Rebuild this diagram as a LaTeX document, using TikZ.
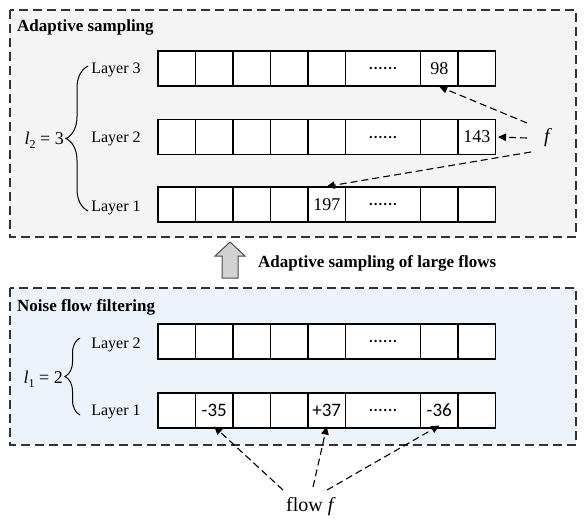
\documentclass[tikz,border=0pt]{standalone}
\usepackage{fontspec}
\setmainfont{Liberation Serif}
\newfontfamily\numfont{Carlito}
\usetikzlibrary{decorations.pathreplacing,arrows.meta}
\definecolor{sampbg}{RGB}{244,244,244}
\definecolor{filtbg}{RGB}{237,243,250}
\definecolor{upgray}{RGB}{210,210,210}
\newcommand{\celldots}{{\numfont\fontsize{19}{19}\selectfont......}}

\begin{document}
\begin{tikzpicture}[x=1pt,y=-1pt,font=\fontsize{16}{19}\selectfont,
  panel/.style={draw=black!80, line width=1.3pt, dash pattern=on 9pt off 5pt},
  cell/.style={draw=black, line width=1.1pt, fill=white, minimum width=37.5pt, minimum height=35pt, inner sep=0pt},
  wide/.style={cell, minimum width=75pt},
  title/.style={font=\fontsize{17}{20}\selectfont\bfseries, anchor=west, inner sep=0pt},
  layer/.style={inner sep=0pt},
  big/.style={inner sep=0pt, font=\fontsize{20}{24}\selectfont},
  val/.style={font=\fontsize{18}{21}\selectfont},
  neg/.style={font=\numfont\fontsize{19}{22}\selectfont},
  curly/.style={decorate, line width=1pt, decoration={brace, amplitude=#1, aspect=0.5}},
  flow/.style={draw=black, line width=1.1pt, dash pattern=on 7pt off 4pt, -{Triangle[length=8pt,width=7.5pt]}}]
\useasboundingbox (0,0) rectangle (586,525);
% panels
\draw[panel, fill=sampbg] (10,10) rectangle (576,237);
\draw[panel, fill=filtbg] (10,288) rectangle (576,445);
\node[title] (samp) at (17,27) {Adaptive sampling};
\node[title] (filt) at (17,307) {Noise flow filtering};
% cell rows
\foreach \r/\y in {t/68.5,m/137,b/204.5,u/341.5,d/410.5}{
  \foreach \i/\x in {1/176.75,2/214.25,3/251.75,4/289.25,5/326.75,7/439.25,8/476.75}
    \node[cell] (\r\i) at (\x,\y) {};
  \node[wide] (\r6) at (383,\y) {\celldots};
}
\node[val] at (t7) {98};
\node[val] at (m8) {143};
\node[val] at (b5) {197};
\node[neg] at (d2) {-35};
\node[neg] at (d5) {+37};
\node[neg] at (d7) {-36};
% layer labels
\node[layer] (l3) at (116,70) {Layer 3};
\node[layer] (l2) at (116,139) {Layer 2};
\node[layer] (l1) at (116,208) {Layer 1};
\node[layer] (k2) at (116,345) {Layer 2};
\node[layer] (k1) at (116,412) {Layer 1};
\draw[curly=22pt] (88,211) -- (88,66);
\draw[curly=15pt] (80,415) -- (80,338);
\node[big, anchor=east, font=\fontsize{18}{22}\selectfont] (lsamp) at (64,140) {\textit{l}\raisebox{-4pt}{\fontsize{12}{12}\selectfont 2} = 3};
\node[big, anchor=east, font=\fontsize{18}{22}\selectfont] (lfilt) at (63,379) {\textit{l}\raisebox{-4pt}{\fontsize{12}{12}\selectfont 1} = 2};
% step between panels
\draw[draw=black!70, line width=1pt, fill=upgray] (230,242) -- (245,256) -- (238,256) -- (238,278) -- (222,278) -- (222,256) -- (215,256) -- cycle;
\node[title] (step) at (258,263) {Adaptive sampling of large flows};
% flow f in sampling
\node[big] (fs) at (548,138) {\textit{f}};
\draw[flow] ([shift={(-21,-15)}]fs.center) -- (t7.south);
\draw[flow] ([shift={(-21,0)}]fs.center) -- ([xshift=2pt]m8.east);
\draw[flow] ([shift={(-17,14)}]fs.center) -- (b5.north);
% flow f in filtering
\node[big] (ff) at (311,507) {flow \textit{f}};
\draw[flow] ([shift={(-28,-17)}]ff.center) -- ([yshift=2pt]d2.south);
\draw[flow] ([shift={(2,-20)}]ff.center) -- ([yshift=2pt]d5.south);
\draw[flow] ([shift={(16,-17)}]ff.center) -- ([yshift=3pt]d7.south);
\end{tikzpicture}
\end{document}
